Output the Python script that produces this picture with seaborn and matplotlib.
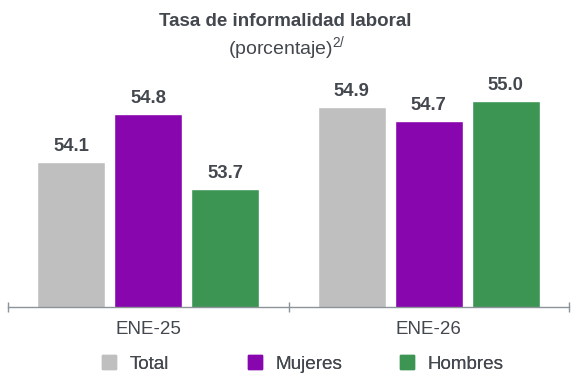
import pandas as pd
import seaborn as sns
import matplotlib.pyplot as plt
from matplotlib.lines import Line2D
from matplotlib.ticker import FixedLocator

# data
periods = ['ENE-25', 'ENE-26']
groups = ['Total', 'Mujeres', 'Hombres']
total = [54.1, 54.9]
mujeres = [54.8, 54.7]
hombres = [53.7, 55.0]

colors = ['#bfbfbf', '#8806ad', '#3d9554']
text_color = '#43474e'
axis_color = '#8c9399'

sns.set_theme(style='white')
plt.rcParams['font.family'] = ['Liberation Sans', 'DejaVu Sans']

df = pd.DataFrame({
    'periodo': periods * 3,
    'grupo': [g for g in groups for _ in periods],
    'valor': total + mujeres + hombres,
})

fig = plt.figure(figsize=(5.82, 3.84), dpi=100)
ax = fig.add_axes([8 / 582, 0.1997, (569 - 8) / 582, 0.8344 - 0.1997])

sns.barplot(data=df, x='periodo', y='valor', hue='grupo', hue_order=groups,
            palette=colors, width=0.8235, gap=0.117, errorbar=None,
            saturation=1, legend=False, ax=ax)

for cont in ax.containers:
    ax.bar_label(cont, fmt='{:.1f}', padding=5, fontsize=13.3, fontweight='bold',
                 color=text_color)

ax.set_ylim(51.95, 55.545)
ax.set_xlim(-0.5, 1.5)
ax.set_xlabel('')
ax.set_ylabel('')
ax.set_yticks([])
for s in ['left', 'right', 'top']:
    ax.spines[s].set_visible(False)
ax.spines['bottom'].set_color(axis_color)
ax.spines['bottom'].set_linewidth(1.0)

ax.xaxis.set_minor_locator(FixedLocator([-0.5, 0.5, 1.5]))
ax.tick_params(axis='x', which='major', length=0, pad=10, labelsize=13.5,
               labelcolor=text_color)
ax.tick_params(axis='x', which='minor', direction='inout', length=7, width=1.0,
               color=axis_color, bottom=True)

# one legend per entry so each sits where the reference puts it
legend_x = [100, 246, 398]
for g, c, lx in zip(groups, colors, legend_x):
    h = Line2D([], [], marker='s', linestyle='', color=c, markersize=10)
    leg = fig.legend([h], [g], loc='center left', bbox_to_anchor=(lx / 582, 1 - 364 / 384),
                     frameon=False, fontsize=13.6, handlelength=1.0, borderpad=0,
                     borderaxespad=0, handletextpad=0.55, labelcolor=text_color)
    fig.add_artist(leg)

fig.text(0.4905, 1 - 22 / 384, 'Tasa de informalidad laboral', ha='center',
         va='center', fontsize=13.5, fontweight='bold', color=text_color)
fig.text(287 / 582, 1 - 49 / 384, '(porcentaje)$^{\\mathregular{2/}}$',
         ha='center', va='center', fontsize=14, color=text_color)

plt.savefig('out.png', dpi=100)
